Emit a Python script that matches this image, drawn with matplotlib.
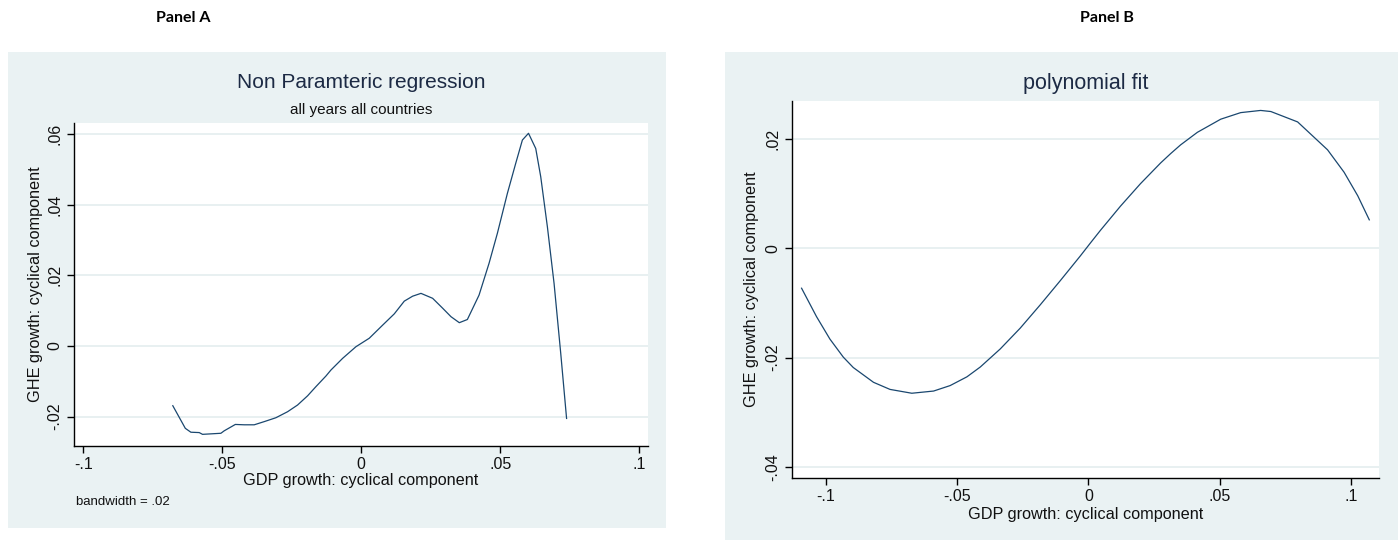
import matplotlib
matplotlib.use("Agg")
import matplotlib.pyplot as plt
from matplotlib.patches import Rectangle

# Panel A: kernel (non-parametric) regression of GHE growth on GDP growth
np_gdp = [-0.0678, -0.0633, -0.0613, -0.0583, -0.0571, -0.0505, -0.0493, -0.0453,
          -0.0421, -0.0385, -0.0349, -0.0307, -0.0265, -0.0229, -0.0193, -0.0163,
          -0.0127, -0.0109, -0.0067, -0.0019, 0.0029, 0.0077, 0.0119, 0.0155,
          0.0185, 0.0215, 0.0257, 0.0293, 0.0323, 0.0353, 0.0382, 0.0424,
          0.0460, 0.0490, 0.0526, 0.0556, 0.0580, 0.0602, 0.0628, 0.0646,
          0.0670, 0.0694, 0.0718, 0.0739]
np_ghe = [-0.0169, -0.0233, -0.0244, -0.0245, -0.0250, -0.0247, -0.0240, -0.0222,
          -0.0223, -0.0223, -0.0214, -0.0203, -0.0186, -0.0167, -0.0141, -0.0115,
          -0.0085, -0.0068, -0.0035, -0.0002, 0.0022, 0.0059, 0.0091, 0.0127,
          0.0141, 0.0149, 0.0135, 0.0107, 0.0083, 0.0066, 0.0075, 0.0144,
          0.0234, 0.0319, 0.0432, 0.0517, 0.0583, 0.0602, 0.0559, 0.0479,
          0.0337, 0.0177, -0.0021, -0.0205]

# Panel B: polynomial fit
poly_gdp = [-0.1093, -0.1036, -0.0985, -0.0934, -0.0896, -0.0819, -0.0756, -0.0673,
            -0.0590, -0.0527, -0.0463, -0.0412, -0.0336, -0.0260, -0.0183, -0.0107,
            -0.0031, 0.0008, 0.0046, 0.0122, 0.0198, 0.0275, 0.0313, 0.0351,
            0.0415, 0.0504, 0.0580, 0.0656, 0.0695, 0.0797, 0.0911, 0.0974,
            0.1026, 0.1070]
poly_ghe = [-0.0073, -0.0125, -0.0166, -0.0199, -0.0218, -0.0245, -0.0258, -0.0265,
            -0.0261, -0.0251, -0.0235, -0.0217, -0.0184, -0.0146, -0.0103, -0.0059,
            -0.0014, 0.0010, 0.0033, 0.0077, 0.0118, 0.0156, 0.0173, 0.0189,
            0.0212, 0.0236, 0.0248, 0.0252, 0.0250, 0.0231, 0.0180, 0.0139,
            0.0096, 0.0052]

x_ticks = [-0.1, -0.05, 0.0, 0.05, 0.1]
x_ticklabels = ["-.1", "-.05", "0", ".05", ".1"]
a_yticks = [-0.02, 0.0, 0.02, 0.04, 0.06]
a_yticklabels = ["-.02", "0", ".02", ".04", ".06"]
b_yticks = [-0.04, -0.02, 0.0, 0.02]
b_yticklabels = ["-.04", "-.02", "0", ".02"]

x_title = "GDP growth: cyclical component"
y_title = "GHE growth: cyclical component"

W, H = 1398, 540
BG = "#EAF2F3"
LINE = "#1A476F"
GRID = "#E4EDEF"
TXT = "#111111"
TITLE = "#1C2A44"

plt.rcParams["font.family"] = ["Liberation Sans", "DejaVu Sans"]

fig = plt.figure(figsize=(W / 100, H / 100), dpi=100)
fig.patch.set_facecolor("white")


def px_rect(x0, y0, x1, y1):
    """Figure-fraction rectangle from pixel edges (origin at top-left)."""
    return [x0 / W, 1 - y1 / H, (x1 - x0) / W, (y1 - y0) / H]


def add_region(x0, y0, x1, y1):
    l, b, w, h = px_rect(x0, y0, x1, y1)
    fig.patches.append(Rectangle((l, b), w, h, transform=fig.transFigure,
                                 facecolor=BG, edgecolor="none", zorder=-5))


def style_axes(ax, xlim, ylim, yticks, yticklabels):
    ax.set_facecolor("white")
    ax.set_xlim(*xlim)
    ax.set_ylim(*ylim)
    ax.set_xticks(x_ticks)
    ax.set_xticklabels(x_ticklabels)
    ax.set_yticks(yticks)
    ax.set_yticklabels(yticklabels, rotation=90, va="center")
    for side in ("top", "right"):
        ax.spines[side].set_visible(False)
    for side in ("left", "bottom"):
        ax.spines[side].set_color("black")
        ax.spines[side].set_linewidth(1.0)
    ax.tick_params(axis="both", direction="out", length=5, width=1.0,
                   colors="black", labelsize=11.5, labelcolor=TXT)
    ax.tick_params(axis="x", pad=3)
    ax.tick_params(axis="y", pad=3)
    ax.grid(axis="y", color=GRID, linewidth=1.2)
    ax.set_axisbelow(True)


# ---- Panel A -------------------------------------------------------------
add_region(8, 52, 666, 528)
axA = fig.add_axes(px_rect(73.6, 122.7, 648, 446))
style_axes(axA, (-0.1035, 0.1032), (-0.0283, 0.0632), a_yticks, a_yticklabels)
axA.plot(np_gdp, np_ghe, color=LINE, linewidth=0.9)
axA.set_xlabel(x_title, fontsize=11.7, color=TXT)
axA.xaxis.set_label_coords(0.5, -0.108)
axA.xaxis.label.set_va("center")
axA.set_ylabel(y_title, fontsize=11.7, color=TXT)
axA.yaxis.set_label_coords(-0.0672, 0.5)
axA.yaxis.label.set_va("center")

fig.text(361 / W, 1 - 82 / H, "Non Paramteric regression", fontsize=15,
         color=TITLE, ha="center", va="center")
fig.text(361 / W, 1 - 110 / H, "all years all countries", fontsize=11,
         color=TXT, ha="center", va="center")
fig.text(76 / W, 1 - 502 / H, "bandwidth = .02", fontsize=9.5,
         color=TXT, ha="left", va="center")

# ---- Panel B -------------------------------------------------------------
add_region(725, 52, 1398, 540)
axB = fig.add_axes(px_rect(791.6, 100.7, 1379, 478.3))
style_axes(axB, (-0.1131, 0.1107), (-0.04205, 0.02698), b_yticks, b_yticklabels)
axB.plot(poly_gdp, poly_ghe, color=LINE, linewidth=0.9)
axB.set_xlabel(x_title, fontsize=11.7, color=TXT)
axB.xaxis.set_label_coords(0.5, -(515 - 478.3) / (478.3 - 100.7))
axB.xaxis.label.set_va("center")
axB.set_ylabel(y_title, fontsize=11.7, color=TXT)
axB.yaxis.set_label_coords((751 - 791.6) / (1379 - 791.6), 0.5)
axB.yaxis.label.set_va("center")

fig.text(1086 / W, 1 - 83 / H, "polynomial fit", fontsize=15.5,
         color=TITLE, ha="center", va="center")

# ---- panel headers ---------------------------------------------------------
for cx, label in ((183, "Panel A"), (1107, "Panel B")):
    fig.text(cx / W, 1 - 18 / H, label, fontsize=11.5, fontweight="bold",
             family=["Lato", "DejaVu Sans"], color="black",
             ha="center", va="center")

fig.savefig("out.png", dpi=100, facecolor=fig.get_facecolor())
